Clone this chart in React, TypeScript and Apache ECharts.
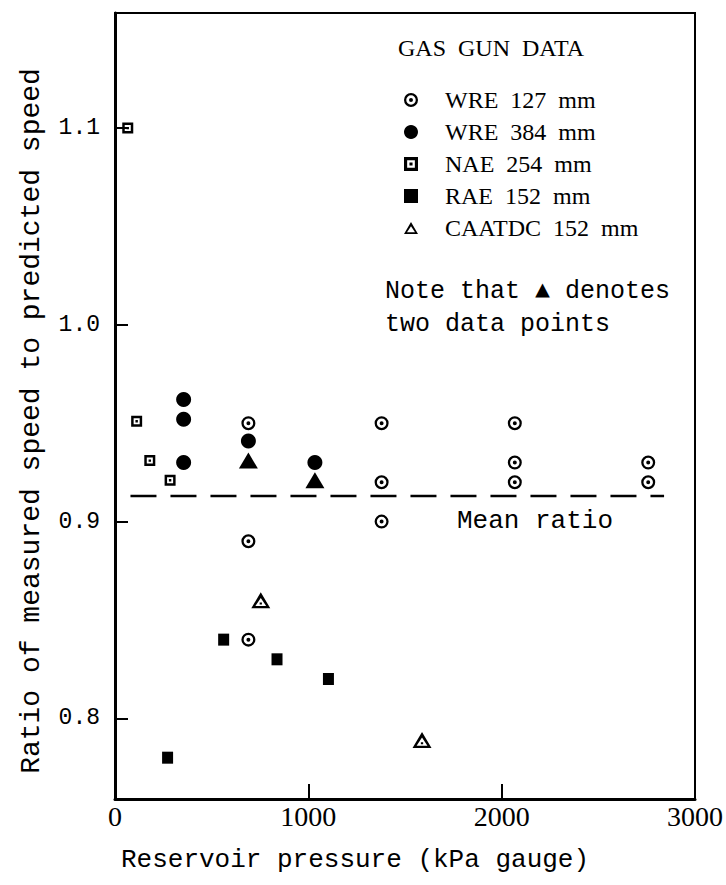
import React, { useEffect, useRef } from "react";
import * as echarts from "echarts";

// ---- data ----
const wre127X = [690, 690, 690, 1379, 1379, 1379, 2068, 2068, 2068, 2758, 2758];
const wre127Y = [0.95, 0.89, 0.84, 0.95, 0.92, 0.9, 0.95, 0.93, 0.92, 0.93, 0.92];

const wre384X = [355, 355, 355, 690, 1034];
const wre384Y = [0.962, 0.952, 0.93, 0.941, 0.93];

const nae254X = [66, 112, 180, 285];
const nae254Y = [1.1, 0.951, 0.931, 0.921];

const rae152X = [272, 562, 838, 1104];
const rae152Y = [0.78, 0.84, 0.83, 0.82];

const caatdcX = [754, 1588];
const caatdcY = [0.86, 0.789];

// filled triangle = two coincident CAATDC points
const caatdcDoubleX = [690, 1034];
const caatdcDoubleY = [0.931, 0.921];

const meanX = [80, 2840];
const meanY = [0.913, 0.913];

const xTickValues = [0, 1000, 2000, 3000];
const xInnerTicks = [1000, 2000];
const yTickValues = [0.8, 0.9, 1.0, 1.1];

const seriesNames = [
  "WRE\u00a0\u00a0127\u00a0\u00a0mm",
  "WRE\u00a0\u00a0384\u00a0\u00a0mm",
  "NAE\u00a0\u00a0254\u00a0\u00a0mm",
  "RAE\u00a0\u00a0152\u00a0\u00a0mm",
  "CAATDC\u00a0\u00a0152\u00a0\u00a0mm",
];

// symbols
const circleDot =
  "path://M13,0 A13,13 0 1,1 13,26 A13,13 0 1,1 13,0 Z M13,4.2 A8.8,8.8 0 1,0 13,21.8 A8.8,8.8 0 1,0 13,4.2 Z M13,9.3 A3.7,3.7 0 1,1 13,16.7 A3.7,3.7 0 1,1 13,9.3 Z";
const squareDot =
  "path://M0,0 L20,0 L20,20 L0,20 Z M4.5,4.5 L4.5,15.5 L15.5,15.5 L15.5,4.5 Z M7.8,7.8 L12.2,7.8 L12.2,12.2 L7.8,12.2 Z";
const triDot =
  "path://M10,0 L20,17 L0,17 Z M10,6 L4.3,14.6 L15.7,14.6 Z M8.8,10.8 L11.2,10.8 L11.2,13 L8.8,13 Z";
const triOpen = "path://M10,0 L20,17 L0,17 Z M10,6 L4.3,14.6 L15.7,14.6 Z";

const zip = (xs: number[], ys: number[]) => xs.map((x, i) => [x, ys[i]]);

const MONO = "'Liberation Mono', 'DejaVu Sans Mono', monospace";
const SERIF = "'Liberation Serif', 'DejaVu Serif', serif";
const INK = "#000";

export default function App() {
  const ref = useRef<HTMLDivElement>(null);

  useEffect(() => {
    if (!ref.current) return;
    const chart = echarts.init(ref.current, undefined, { renderer: "svg" });
    const mark = { color: INK, opacity: 1 };
    const option: any = {
      animation: false,
      backgroundColor: "#fff",
      grid: {
        left: 115,
        right: 22,
        top: 13,
        bottom: 86,
        show: true,
        borderColor: INK,
        borderWidth: 2,
        backgroundColor: "transparent",
      },
      xAxis: {
        type: "value",
        min: 0,
        max: 3000,
        interval: 1000,
        axisLine: { onZero: false, lineStyle: { color: INK, width: 3 } },
        axisTick: { inside: true, length: 15, customValues: xInnerTicks, lineStyle: { color: INK, width: 2 } },
        axisLabel: {
          customValues: xTickValues,
          formatter: (v: number) => String(Math.round(v)),
          showMinLabel: true,
          showMaxLabel: true,
          margin: 3,
          color: INK,
          fontFamily: SERIF,
          fontSize: 28,
        },
        splitLine: { show: false },
      },
      yAxis: {
        type: "value",
        min: 0.759,
        max: 1.1585,
        axisLine: { lineStyle: { color: INK, width: 3 } },
        axisTick: { inside: true, length: 13, customValues: yTickValues, lineStyle: { color: INK, width: 2 } },
        axisLabel: {
          customValues: yTickValues,
          formatter: (v: number) => v.toFixed(1),
          margin: 15,
          color: INK,
          fontFamily: MONO,
          fontSize: 23,
        },
        splitLine: { show: false },
      },
      legend: {
        orient: "vertical",
        left: 399,
        top: 83,
        itemWidth: 14,
        itemHeight: 14,
        itemGap: 8,
        selectedMode: false,
        textStyle: {
          color: INK,
          fontFamily: SERIF,
          fontSize: 24,
          lineHeight: 24,
          padding: [0, 0, 0, 22],
        },
        data: [
          { name: seriesNames[0] },
          { name: seriesNames[1] },
          { name: seriesNames[2] },
          { name: seriesNames[3] },
          { name: seriesNames[4], icon: triOpen },
        ],
      },
      graphic: [
        {
          type: "text",
          left: 398,
          top: 36,
          style: {
            text: "GAS\u00a0\u00a0GUN\u00a0\u00a0DATA",
            fill: INK,
            font: `24px ${SERIF}`,
          },
        },
        {
          type: "text",
          x: 385,
          y: 291,
          style: {
            text: "Note that \u25B2 denotes",
            fill: INK,
            font: `25px ${MONO}`,
            verticalAlign: "middle",
          },
        },
        {
          type: "text",
          x: 385,
          y: 324,
          style: {
            text: "two data points",
            fill: INK,
            font: `25px ${MONO}`,
            verticalAlign: "middle",
          },
        },
        {
          type: "text",
          x: 457,
          y: 521,
          style: {
            text: "Mean ratio",
            fill: INK,
            font: `26px ${MONO}`,
            verticalAlign: "middle",
          },
        },
        {
          type: "text",
          x: 31,
          y: 421,
          rotation: Math.PI / 2,
          style: {
            text: "Ratio of measured speed to predicted speed",
            fill: INK,
            font: `28px ${MONO}`,
            align: "center",
            verticalAlign: "middle",
          },
        },
        {
          type: "text",
          x: 355,
          y: 860,
          style: {
            text: "Reservoir pressure (kPa gauge)",
            fill: INK,
            font: `26px ${MONO}`,
            align: "center",
            verticalAlign: "middle",
          },
        },
      ],
      series: [
        {
          name: "mean",
          type: "line",
          data: zip(meanX, meanY),
          showSymbol: false,
          symbol: "none",
          lineStyle: { color: INK, width: 2.5, type: [26, 14] },
          z: 1,
          silent: true,
        },
        {
          name: seriesNames[0],
          type: "scatter",
          data: zip(wre127X, wre127Y),
          symbol: circleDot,
          symbolSize: 14,
          itemStyle: mark,
          z: 3,
        },
        {
          name: seriesNames[1],
          type: "scatter",
          data: zip(wre384X, wre384Y),
          symbol: "circle",
          symbolSize: 15,
          itemStyle: mark,
          z: 3,
        },
        {
          name: seriesNames[2],
          type: "scatter",
          data: zip(nae254X, nae254Y),
          symbol: squareDot,
          symbolSize: 11,
          itemStyle: mark,
          z: 3,
        },
        {
          name: seriesNames[3],
          type: "scatter",
          data: zip(rae152X, rae152Y),
          symbol: "rect",
          symbolSize: [11, 12],
          itemStyle: mark,
          z: 3,
        },
        {
          name: seriesNames[4],
          type: "scatter",
          data: zip(caatdcX, caatdcY),
          symbol: triDot,
          symbolSize: [19, 16],
          itemStyle: mark,
          z: 3,
        },
        {
          name: "CAATDC double",
          type: "scatter",
          data: zip(caatdcDoubleX, caatdcDoubleY),
          symbol: "triangle",
          symbolSize: [19, 16],
          itemStyle: mark,
          z: 3,
        },
      ],
    };
    chart.setOption(option);
    return () => chart.dispose();
  }, []);

  return (
    <div
      ref={ref}
      style={{ position: "fixed", left: 0, top: 0, width: 726, height: 885, background: "#fff" }}
    />
  );
}
